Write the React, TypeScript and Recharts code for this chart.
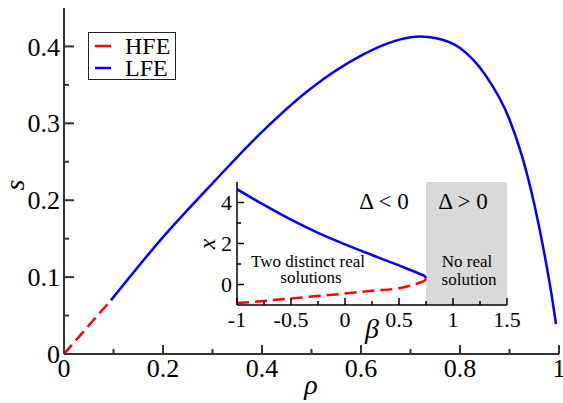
import React from 'react';
import { LineChart, Line, XAxis, YAxis, ReferenceArea, Legend, Customized } from 'recharts';

const FONT = 'Liberation Serif, Tinos, Times New Roman, Times, DejaVu Serif, Noto Serif, serif';

// main panel: s against rho
const hfeRho = [0, 0.05, 0.095];
const hfeS = [0, 0.037, 0.07];
const lfeRho = [0.095, 0.2, 0.3, 0.4, 0.5, 0.6, 0.65, 0.7, 0.72, 0.75, 0.8, 0.85, 0.9, 0.925, 0.95, 0.97, 0.985, 0.994];
const lfeS = [0.07, 0.152, 0.222, 0.289, 0.346, 0.388, 0.403, 0.412, 0.413, 0.411, 0.398, 0.364, 0.305, 0.258, 0.195, 0.132, 0.077, 0.039];

const rhoTicks = [0, 0.1, 0.2, 0.3, 0.4, 0.5, 0.6, 0.7, 0.8, 0.9, 1];
const rhoLabels = [0, 0.2, 0.4, 0.6, 0.8, 1];
const sTicks = [0, 0.05, 0.1, 0.15, 0.2, 0.25, 0.3, 0.35, 0.4];
const sLabels = [0, 0.1, 0.2, 0.3, 0.4];

// inset: the two roots x against beta
const betaRoots = [-1, -0.75, -0.5, -0.25, 0, 0.25, 0.5, 0.6, 0.7, 0.74, 0.75];
const xUpper = [4.65, 3.88, 3.16, 2.52, 1.96, 1.44, 0.93, 0.72, 0.5, 0.4, 0.3];
const xLower = [-0.91, -0.8, -0.68, -0.56, -0.44, -0.3, -0.18, -0.06, 0.1, 0.2, 0.3];
const betaCritical = 0.75;

const betaTicks = [-1, -0.75, -0.5, -0.25, 0, 0.25, 0.5, 0.75, 1, 1.25, 1.5];
const betaLabels = [-1, -0.5, 0, 0.5, 1, 1.5];
const xTicks = [0, 1, 2, 3, 4];
const xLabels = [0, 2, 4];

const pts = (xs: number[], ys: number[], kx: string, ky: string) =>
  xs.map((v, i) => ({ [kx]: v, [ky]: ys[i] }));

const hfeData = pts(hfeRho, hfeS, 'rho', 's');
const lfeData = pts(lfeRho, lfeS, 'rho', 's');
const upperData = pts(betaRoots, xUpper, 'beta', 'x');
const lowerData = pts(betaRoots, xLower, 'beta', 'x');

type TickOpts = { labels: number[]; fontSize: number; major: number; minor: number; gap: number; color: string; width: number };

// tick marks point inward, labels sit outside
const bottomTick = (o: TickOpts) => (p: any) => {
  const v = p.payload.value;
  const big = o.labels.includes(v);
  return (
    <g>
      <line x1={p.x} x2={p.x} y1={p.y} y2={p.y - (big ? o.major : o.minor)} stroke={o.color} strokeWidth={o.width} />
      {big && (
        <text x={p.x} y={p.y + o.gap} textAnchor="middle" fontSize={o.fontSize} fontFamily={FONT} fill="#000">
          {String(v)}
        </text>
      )}
    </g>
  );
};

const leftTick = (o: TickOpts) => (p: any) => {
  const v = p.payload.value;
  const big = o.labels.includes(v);
  return (
    <g>
      <line x1={p.x} x2={p.x + (big ? o.major : o.minor)} y1={p.y} y2={p.y} stroke={o.color} strokeWidth={o.width} />
      {big && (
        <text x={p.x - o.gap} y={p.y} dy="0.35em" textAnchor="end" fontSize={o.fontSize} fontFamily={FONT} fill="#000">
          {String(v)}
        </text>
      )}
    </g>
  );
};

const MainNotes = () => (
  <g fontFamily={FONT} fill="#000">
    <text x={311} y={394} textAnchor="middle" fontSize={28} fontStyle="italic">ρ</text>
    <text x={24} y={185} textAnchor="middle" fontSize={28} fontStyle="italic" transform="rotate(-90 24 185)">s</text>
  </g>
);

const InsetNotes = () => (
  <g fontFamily={FONT} fill="#000">
    <text x={177} y={163} textAnchor="middle" fontSize={28} fontStyle="italic">β</text>
    <text x={20} y={69} textAnchor="middle" fontSize={24} fontStyle="italic" transform="rotate(-90 20 69)">x</text>
  </g>
);

// text inside the two regions of the inset
const RealRegion = (p: any) => {
  const { x, y } = p.viewBox;
  return (
    <g fontFamily={FONT} fill="#000">
      <text x={x + 147} y={y + 27} textAnchor="middle" fontSize={23}>Δ &lt; 0</text>
      <text x={x + 71} y={y + 85} textAnchor="middle" fontSize={17}>Two distinct real</text>
      <text x={x + 74} y={y + 101} textAnchor="middle" fontSize={17}>solutions</text>
    </g>
  );
};

const NoRealRegion = (p: any) => {
  const { x, y } = p.viewBox;
  return (
    <g fontFamily={FONT} fill="#000">
      <text x={x + 37} y={y + 27} textAnchor="middle" fontSize={23}>Δ &gt; 0</text>
      <text x={x + 41} y={y + 85} textAnchor="middle" fontSize={17}>No real</text>
      <text x={x + 43} y={y + 103} textAnchor="middle" fontSize={17}>solution</text>
    </g>
  );
};

const LegendBox = ({ payload }: any) => (
  <div
    style={{
      border: '1.5px solid #222',
      background: '#fff',
      width: 86,
      height: 44,
      boxSizing: 'content-box',
      fontFamily: FONT,
      fontSize: 24,
      lineHeight: '22px',
      paddingTop: 2,
    }}
  >
    {(payload || []).map((e: any) => (
      <div key={e.value} style={{ display: 'flex', alignItems: 'center', height: 22 }}>
        <svg width={36} height={22}>
          <line x1={6} x2={22} y1={11} y2={11} stroke={e.color} strokeWidth={2.5} />
        </svg>
        <span>{e.value}</span>
      </div>
    ))}
  </div>
);

const mainTickStyle = { fontSize: 26, color: '#333', width: 2 };

export default function App() {
  return (
    <div style={{ position: 'absolute', left: 0, top: 0, width: 563, height: 403, background: '#fff' }}>
      <div style={{ position: 'absolute', left: 0, top: 0 }}>
        <LineChart width={563} height={403} margin={{ top: 8, right: 4, bottom: 0, left: 0 }}>
          <XAxis
            dataKey="rho"
            type="number"
            domain={[0, 1]}
            ticks={rhoTicks}
            interval={0}
            height={49}
            tickSize={0}
            tickMargin={0}
            tickLine={false}
            axisLine={{ stroke: '#333', strokeWidth: 2 }}
            tick={bottomTick({ labels: rhoLabels, major: 9, minor: 5, gap: 23, ...mainTickStyle })}
            allowDataOverflow
          />
          <XAxis xAxisId="top" orientation="top" type="number" domain={[0, 1]} height={0} tick={false} tickLine={false} axisLine={{ stroke: '#333', strokeWidth: 2 }} />
          <YAxis
            type="number"
            domain={[0, 0.45]}
            ticks={sTicks}
            interval={0}
            width={64}
            tickSize={0}
            tickMargin={0}
            tickLine={false}
            axisLine={{ stroke: '#333', strokeWidth: 2 }}
            tick={leftTick({ labels: sLabels, major: 10, minor: 5, gap: 4, ...mainTickStyle })}
            allowDataOverflow
          />
          <YAxis yAxisId="right" orientation="right" type="number" domain={[0, 0.45]} width={0} tick={false} tickLine={false} axisLine={{ stroke: '#666', strokeWidth: 2 }} />
          <Line
            data={hfeData}
            dataKey="s"
            name="HFE"
            type="monotone"
            stroke="#ff0000"
            strokeWidth={2.5}
            strokeDasharray="12 6"
            dot={false}
            activeDot={false}
            isAnimationActive={false}
          />
          <Line
            data={lfeData}
            dataKey="s"
            name="LFE"
            type="monotone"
            stroke="#0000ff"
            strokeWidth={2.5}
            dot={false}
            activeDot={false}
            isAnimationActive={false}
          />
          <Legend
            layout="horizontal"
            align="center"
            verticalAlign="middle"
            content={<LegendBox />}
            wrapperStyle={{ left: 88, top: 32, width: 'auto', height: 'auto' }}
          />
          <Customized component={MainNotes} />
        </LineChart>
      </div>

      <div style={{ position: 'absolute', left: 195, top: 175 }}>
        <LineChart width={340} height={180} margin={{ top: 7, right: 28, bottom: 0, left: 0 }}>
          <ReferenceArea x1={-1} x2={betaCritical} fill="#ffffff" fillOpacity={1} label={RealRegion} />
          <ReferenceArea x1={betaCritical} x2={1.5} fill="#d9d9d9" fillOpacity={1} label={NoRealRegion} />
          <XAxis
            dataKey="beta"
            type="number"
            domain={[-1, 1.5]}
            ticks={betaTicks}
            interval={0}
            height={50}
            tickSize={0}
            tickMargin={0}
            tickLine={false}
            axisLine={{ stroke: '#000', strokeWidth: 1.5 }}
            tick={bottomTick({ labels: betaLabels, fontSize: 22, major: 7, minor: 4, gap: 22, color: '#000', width: 1.5 })}
            allowDataOverflow
          />
          <XAxis xAxisId="top" orientation="top" type="number" domain={[-1, 1.5]} height={0} tick={false} tickLine={false} axisLine={{ stroke: '#000', strokeWidth: 1.5 }} />
          <YAxis
            type="number"
            domain={[-1, 5]}
            ticks={xTicks}
            interval={0}
            width={42}
            tickSize={0}
            tickMargin={0}
            tickLine={false}
            axisLine={{ stroke: '#000', strokeWidth: 1.5 }}
            tick={leftTick({ labels: xLabels, fontSize: 22, major: 7, minor: 4, gap: 5, color: '#000', width: 1.5 })}
            allowDataOverflow
          />
          <YAxis yAxisId="right" orientation="right" type="number" domain={[-1, 5]} width={0} tick={false} tickLine={false} axisLine={{ stroke: '#000', strokeWidth: 1.5 }} />
          <Line
            data={upperData}
            dataKey="x"
            type="monotone"
            stroke="#0000ff"
            strokeWidth={2.5}
            dot={false}
            activeDot={false}
            isAnimationActive={false}
          />
          <Line
            data={lowerData}
            dataKey="x"
            type="monotone"
            stroke="#ff0000"
            strokeWidth={2.5}
            strokeDasharray="12 6"
            dot={false}
            activeDot={false}
            isAnimationActive={false}
          />
          <Customized component={InsetNotes} />
        </LineChart>
      </div>
    </div>
  );
}
